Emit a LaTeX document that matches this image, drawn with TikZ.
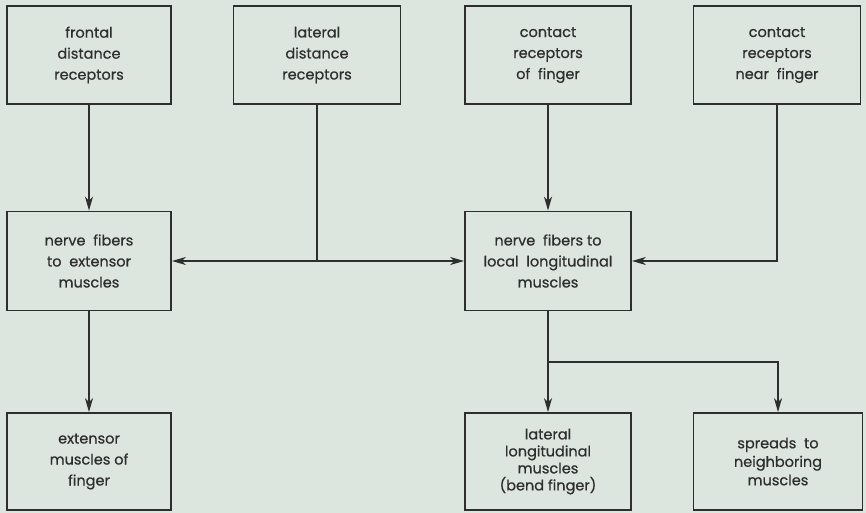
\documentclass[tikz,border=0pt]{standalone}
\usepackage{fontspec}
\setmainfont{Poppins}
\usetikzlibrary{arrows.meta}
\definecolor{bg}{HTML}{DDE5DF}
\definecolor{ink}{HTML}{2E2E2E}
\begin{document}
\begin{tikzpicture}[x=1pt,y=-1pt,
  box/.style={draw=ink, line width=1.8pt, align=center, text=ink, inner sep=0pt,
    font=\fontsize{14.5}{21}\selectfont\addfontfeature{FakeBold=0.6}},
  conn/.style={draw=ink, line width=1.8pt},
  arr/.style={conn, -{Stealth[length=14pt,width=8pt,inset=4pt]}}]
\fill[bg] (0,0) rectangle (866,513);
\useasboundingbox (0,0) rectangle (866,513);
\node[box, minimum width=164pt, minimum height=98pt] (b1) at (89,55) {frontal\\distance\\receptors};
\node[box, minimum width=167pt, minimum height=98pt] (b2) at (317,55) {lateral\\distance\\receptors};
\node[box, minimum width=166pt, minimum height=98pt] (b3) at (548,55) {contact\\receptors\\of\ \ finger};
\node[box, minimum width=167pt, minimum height=98pt] (b4) at (777,55) {contact\\receptors\\near\ \ finger};
\node[box, minimum width=164pt, minimum height=99pt] (b5) at (89,261) {nerve\ \ fibers\\to\ \ extensor\\muscles};
\node[box, minimum width=166pt, minimum height=99pt] (b6) at (548,261) {nerve\ \ fibers to\\local\ \ longitudinal\\muscles};
\node[box, minimum width=164pt, minimum height=97pt] (b7) at (89,461.5) {extensor\\muscles of\\finger};
\node[box, minimum width=166pt, minimum height=97pt, font=\fontsize{14.5}{17}\selectfont\addfontfeature{FakeBold=0.6}] (b8) at (548,461.5) {lateral\\longitudinal\\muscles\\(bend finger)};
\node[box, minimum width=169pt, minimum height=97pt, font=\fontsize{14.5}{18.5}\selectfont\addfontfeature{FakeBold=0.6}] (b9) at (778,461.5) {spreads\ \ to\\neighboring\\muscles};
\draw[arr] (b1) -- (b5);
\draw[arr] (b3) -- (b6);
\draw[arr] (b5) -- (b7);
\path (b2.south |- b5.east) coordinate (j);
\draw[conn] (b2.south) -- (j);
\draw[arr] (j) -- (b5.east);
\draw[arr] (j) -- (b6.west);
\draw[arr] (b4.south) |- (b6.east);
\path (b6.south) ++(0,50.5) coordinate (s);
\draw[conn] (b6.south) -- (s);
\draw[arr] (s) -- (b8.north);
\draw[arr] (s) -| (b9.north);
\end{tikzpicture}
\end{document}
